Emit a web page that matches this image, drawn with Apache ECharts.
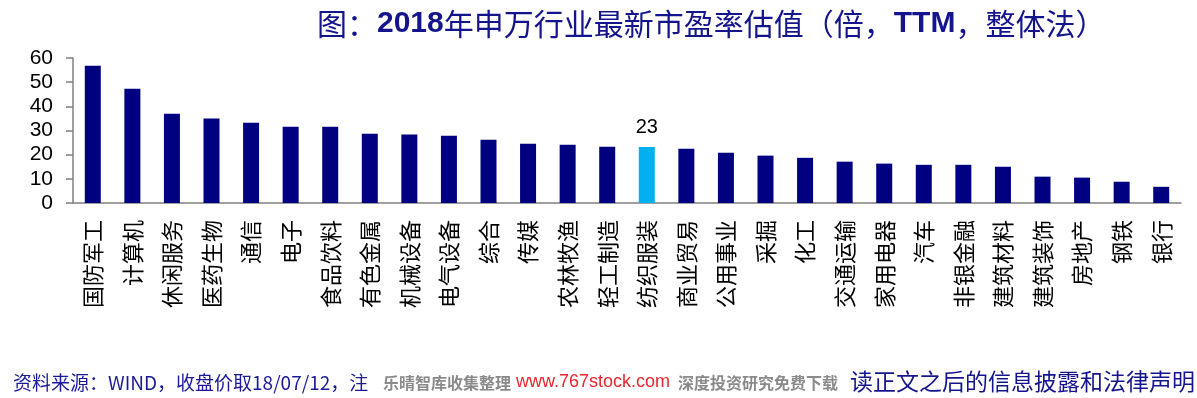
<!DOCTYPE html>
<html>
<head>
<meta charset="utf-8">
<script src="https://cdn.jsdelivr.net/npm/echarts@6/dist/echarts.min.js"></script>
<style>
  html, body { margin: 0; padding: 0; background: #fff; }
  #main { width: 1197px; height: 398px; }
</style>
</head>
<body>
<div id="main"></div>
<script>
// 申万行业 PE（TTM，整体法）
const industries = ['国防军工', '计算机', '休闲服务', '医药生物', '通信', '电子', '食品饮料', '有色金属', '机械设备', '电气设备', '综合', '传媒', '农林牧渔', '轻工制造', '纺织服装', '商业贸易', '公用事业', '采掘', '化工', '交通运输', '家用电器', '汽车', '非银金融', '建筑材料', '建筑装饰', '房地产', '钢铁', '银行'];
const peValues = [56.8, 47.3, 36.9, 35.0, 33.2, 31.6, 31.6, 28.7, 28.3, 27.8, 26.2, 24.5, 24.1, 23.3, 23.2, 22.5, 20.8, 19.6, 18.7, 17.1, 16.3, 15.8, 15.8, 15.0, 10.9, 10.5, 8.8, 6.7];
const highlight = '纺织服装';
const yTicks = [0, 10, 20, 30, 40, 50, 60];

const navy = '#000080';
const cyan = '#00b0f0';
const titleColor = '#14148c';

const chart = echarts.init(document.getElementById('main'));

chart.setOption({
  animation: false,
  title: {
    text: '{a|图：}{b|2018}{a|年申万行业最新市盈率估值（倍，}{b|TTM}{a|，整体法）}',
    left: 312,
    top: 4,
    textStyle: {
      rich: {
        a: { fontFamily: 'Noto Sans CJK SC', fontWeight: 'normal', fontSize: 30, color: titleColor },
        b: { fontFamily: 'Liberation Sans', fontWeight: 'bold', fontSize: 30, color: titleColor }
      }
    }
  },
  grid: { left: 73, right: 16, top: 58, bottom: 195 },
  xAxis: {
    type: 'category',
    data: industries,
    axisLine: { lineStyle: { color: '#808080', width: 1.5 } },
    axisTick: { length: 7, lineStyle: { color: '#808080', width: 1.5 } },
    axisLabel: {
      rotate: 90,
      interval: 0,
      margin: 17,
      color: '#000',
      fontFamily: 'Noto Sans CJK SC',
      fontSize: 22
    }
  },
  yAxis: {
    type: 'value',
    min: yTicks[0],
    max: yTicks[yTicks.length - 1],
    interval: 10,
    splitLine: { show: false },
    axisLine: { show: true, lineStyle: { color: '#808080', width: 1.5 } },
    axisTick: { show: true, length: 7, lineStyle: { color: '#808080', width: 1.5 } },
    axisLabel: {
      margin: 20,
      color: '#000',
      fontFamily: 'Liberation Sans',
      fontSize: 21
    }
  },
  series: [{
    type: 'bar',
    barWidth: 16,
    data: industries.map((name, i) => ({
      value: peValues[i],
      itemStyle: { color: name === highlight ? cyan : navy },
      label: name === highlight ? {
        show: true,
        position: 'top',
        distance: 9,
        color: '#000',
        fontFamily: 'Liberation Sans',
        fontSize: 20,
        formatter: (p) => Math.round(p.value)
      } : { show: false }
    }))
  }],
  graphic: [
    {
      type: 'text', left: 13, top: 373,
      style: { text: '资料来源：WIND，收盘价取18/07/12，注', fontFamily: 'Noto Sans CJK SC', fontSize: 19, fill: '#1a1a9a' }
    },
    {
      type: 'rect', left: 379, top: 368, shape: { width: 466, height: 30 },
      style: { fill: '#fff' }
    },
    {
      type: 'text', left: 383, top: 375,
      style: { text: '乐晴智库收集整理', fontFamily: 'Noto Sans CJK SC', fontWeight: 'bold', fontSize: 16, fill: '#8a8a8a' }
    },
    {
      type: 'text', left: 516, top: 373,
      style: { text: 'www.767stock.com', fontFamily: 'Liberation Sans', fontSize: 18, fill: '#e8262e' }
    },
    {
      type: 'text', left: 678, top: 375,
      style: { text: '深度投资研究免费下载', fontFamily: 'Noto Sans CJK SC', fontWeight: 'bold', fontSize: 16, fill: '#8a8a8a' }
    },
    {
      type: 'text', left: 850, top: 370,
      style: { text: '读正文之后的信息披露和法律声明', fontFamily: 'Noto Sans CJK SC', fontSize: 23, fill: '#14148c' }
    }
  ]
});
</script>
</body>
</html>
